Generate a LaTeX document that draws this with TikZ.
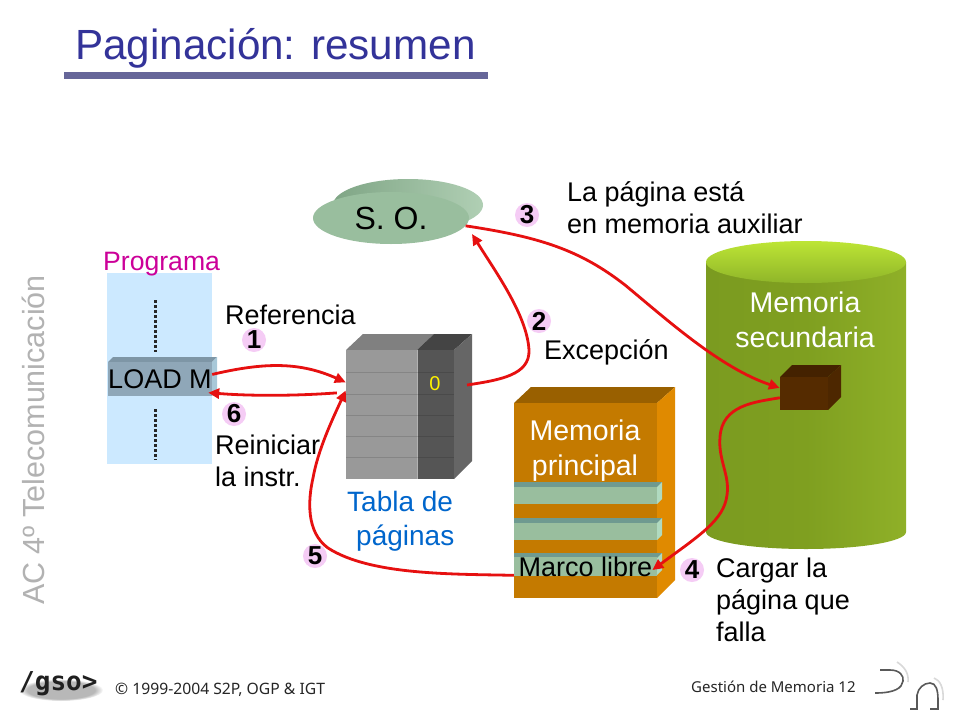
\documentclass[tikz,border=0pt]{standalone}
\usepackage{fontspec}
\setmainfont{Liberation Sans}
\newfontfamily\piefont{Noto Sans}
\newfontfamily\gsofont{DejaVu Sans Mono}
\usetikzlibrary{arrows.meta,shapes.geometric,fadings}
\definecolor{azultitulo}{HTML}{333399}
\definecolor{regla}{HTML}{666699}
\definecolor{flechared}{HTML}{E61010}
\definecolor{marcoverde}{HTML}{99BE9E}
\definecolor{marcotope}{HTML}{6F9A90}
\definecolor{marcolado}{HTML}{B0DAC0}
\definecolor{rosa}{HTML}{F5CCF5}
\definecolor{sofondoa}{HTML}{7FA585}
\definecolor{sofondob}{HTML}{B0CFB4}
\definecolor{progtexto}{HTML}{CC0099}
\definecolor{progfondo}{HTML}{CCE9FF}
\definecolor{loadtope}{HTML}{7E96A6}
\definecolor{loadlado}{HTML}{A8C8D8}
\definecolor{loadfrente}{HTML}{8FA7B8}
\definecolor{tablatope}{HTML}{808080}
\definecolor{tablatopeosc}{HTML}{444444}
\definecolor{tablalado}{HTML}{666666}
\definecolor{tablaclaro}{HTML}{999999}
\definecolor{tablaoscuro}{HTML}{555555}
\definecolor{tablatexto}{HTML}{0066CC}
\definecolor{mptope}{HTML}{996000}
\definecolor{mplado}{HTML}{E08A00}
\definecolor{mpfrente}{HTML}{C47A00}
\definecolor{cilizq}{HTML}{7B9B20}
\definecolor{cilmed}{HTML}{7F9F20}
\definecolor{cilder}{HTML}{8FB028}
\definecolor{ciltopea}{HTML}{BDE535}
\definecolor{ciltopeb}{HTML}{8FB529}
\definecolor{cubotope}{HTML}{442200}
\definecolor{cubolado}{HTML}{4D2700}
\definecolor{cubofrente}{HTML}{552B00}
\tikzset{
  texto/.style={inner sep=0pt,font=\fontsize{27}{32}\selectfont},
  blanco/.style={inner sep=0pt,text=white,align=center,font=\fontsize{28.5}{35}\selectfont},
  numero/.style={circle,fill=rosa,minimum size=24pt,inner sep=0pt,font=\bfseries\fontsize{26}{26}\selectfont},
  flecha/.style={draw=flechared,line width=2.8pt,-{Triangle[length=11pt,width=10pt]}},
  pie/.style={inner sep=0pt,text=black!85,font=\piefont\fontsize{15}{18}\selectfont},
  puntos/.style={line width=3pt,dash pattern=on 3pt off 2pt,black!85},
  marco/.style={fill=marcoverde,minimum width=143pt,minimum height=17pt,inner sep=0pt}
}
\begin{document}
\begin{tikzpicture}[x=1pt,y=-1pt]
  \useasboundingbox[fill=white] (0,0) rectangle (960,720);

  %% titulo
  \node[anchor=base west,inner sep=0pt,text=azultitulo,font=\fontsize{42.2}{50}\selectfont] (titulo) at (75,59) {Paginaci\'on: resumen};
  \fill[regla] (64,72) rectangle (488,79);

  %% S. O.
  \shade[left color=sofondoa,right color=sofondob] (408,205) ellipse (75 and 26);
  \node[ellipse,fill=marcoverde,minimum width=156pt,minimum height=52pt,inner sep=0pt,font=\fontsize{32}{32}\selectfont] (so) at (391,218) {\raisebox{-2pt}{S. O.}};
  \coordinate (soB) at (472,234);

  %% programa
  \fill[progfondo] (107,273) rectangle (212,464);
  \node[anchor=west,inner sep=0pt,text=progtexto,font=\fontsize{26.6}{32}\selectfont] (programa) at (103,264) {Programa};
  \draw[puntos] (155,300) -- (155,352);
  \draw[puntos] (155,409) -- (155,460);
  \fill[loadtope] (108,362) -- (113,357) -- (217,357) -- (212,362) -- cycle;
  \fill[loadlado] (212,362) -- (217,357) -- (217,391) -- (212,396) -- cycle;
  \node[fill=loadfrente,minimum width=104pt,minimum height=34pt,texto] (load) at (160,379) {LOAD M};

  %% tabla de paginas
  \fill[tablatope] (346,350) -- (363,334) -- (434,334) -- (417,350) -- cycle;
  \fill[tablatopeosc] (417,350) -- (434,334) -- (472,334) -- (454,350) -- cycle;
  \fill[tablalado] (454,350) -- (472,334) -- (472,461) -- (454,479) -- cycle;
  \node[fill=tablaclaro,minimum width=71pt,minimum height=129pt,inner sep=0pt] (tabla) at (381.5,414.5) {};
  \fill[tablaoscuro] (417,350) rectangle (454,479);
  \draw[white!70!black,line width=.8pt] (417,350) -- (417,479);
  \draw[black,opacity=.13] (346,372) -- (454,372);
  \draw[black,opacity=.13] (346,394) -- (454,394);
  \draw[black,opacity=.13] (346,415) -- (454,415);
  \draw[black,opacity=.13] (346,436) -- (454,436);
  \draw[black,opacity=.13] (346,457) -- (454,457);
  \node[inner sep=0pt,text=yellow,font=\fontsize{20}{20}\selectfont] (cero) at (435,384) {0};
  \coordinate (ceroE) at (467,385);
  \node[anchor=west,texto,text=tablatexto,align=left,font=\fontsize{28}{34}\selectfont] (tablatxt) at (347,521) {Tabla de\\\hspace*{9pt}p\'aginas};

  %% memoria principal
  \fill[mptope] (514,403) -- (531,387) -- (675,387) -- (657,403) -- cycle;
  \fill[mplado] (657,403) -- (675,387) -- (675,580) -- (657,598) -- cycle;
  \node[fill=mpfrente,minimum width=143pt,minimum height=195pt,inner sep=0pt] (principal) at (585.5,500.5) {};
  \node[blanco] (principaltxt) at (585,451) {Memoria\\principal};
  \fill[marcotope] (514,482) rectangle (662,487);
  \fill[marcolado] (657,487) -- (662,482) -- (662,499) -- (657,504) -- cycle;
  \node[marco] (marcoA) at (585.5,495.5) {};
  \fill[marcotope] (514,518) rectangle (662,523);
  \fill[marcolado] (657,523) -- (662,518) -- (662,535) -- (657,540) -- cycle;
  \node[marco] (marcoB) at (585.5,531.5) {};
  \fill[marcotope] (514,553) rectangle (662,558);
  \fill[marcolado] (657,558) -- (662,553) -- (662,570) -- (657,575) -- cycle;
  \node[marco,texto] (libre) at (585.5,566.5) {Marco libre};

  %% memoria secundaria
  \shade[left color=cilizq,right color=cilder,middle color=cilmed] (706,262) -- (706,532) arc[start angle=180,end angle=0,x radius=100,y radius=17] -- (906,262) -- cycle;
  \shade[top color=ciltopea,bottom color=ciltopeb] (806,262) ellipse (100 and 21);
  \node[blanco] (secundaria) at (805,320) {Memoria\\secundaria};
  \fill[cubotope] (780,377) -- (792,365) -- (841,365) -- (828,377) -- cycle;
  \fill[cubolado] (828,377) -- (841,365) -- (841,397) -- (828,410) -- cycle;
  \node[fill=cubofrente,minimum width=48pt,minimum height=33pt,inner sep=0pt] (cubo) at (804,393.5) {};

  %% textos
  \node[anchor=west,texto] (referencia) at (225,315) {Referencia};
  \node[anchor=west,texto,align=left] (reiniciar) at (215,460.5) {Reiniciar\\la instr.};
  \node[anchor=west,texto] (excepcion) at (544,352) {Excepci\'on};
  \node[anchor=west,texto,align=left] (auxiliar) at (567,207.5) {La p\'agina est\'a\\en memoria auxiliar};
  \node[anchor=west,texto,align=left] (cargar) at (716,600) {Cargar la\\p\'agina que\\falla};

  %% numeros
  \node[numero] (uno) at (254,340) {1};
  \node[numero] (dos) at (539,321) {2};
  \node[numero] (tres) at (527,215) {3};
  \node[numero] (cuatro) at (692,570) {4};
  \node[numero] (cinco) at (315,556) {5};
  \node[numero] (seis) at (234,414) {6};

  %% flechas
  \draw[flecha] (load.5) .. controls (265,362) and (300,362) .. (tabla.138);
  \draw[flecha,shorten <=9pt,shorten >=-4pt] (tabla.148) .. controls (295,396) and (250,396) .. (load.-15);
  \draw[flecha] (libre.187) .. controls (450,574) and (370,575) .. (328,548) .. controls (306,532) and (308,500) .. (313,478) .. controls (318,450) and (332,420) .. (tabla.146);
  \draw[flecha] (ceroE) .. controls (500,380) and (530,375) .. (529,350) .. controls (527,315) and (495,271) .. (soB);
  \draw[flecha] (so.-6) .. controls (540,237) and (580,250) .. (625,285) .. controls (665,318) and (720,368) .. (cubo.167);
  \draw[flecha,shorten >=-6pt] (cubo.190) .. controls (755,402) and (722,405) .. (720,437) .. controls (718,460) and (730,475) .. (727,495) .. controls (724,520) and (700,535) .. (libre.east);

  %% pie
  \node[rotate=90,text=black!30,inner sep=0pt,font=\fontsize{30.5}{31}\selectfont] (asignatura) at (33,440) {AC 4\textordmasculine{} Telecomunicaci\'on};
  \fill[black!28,path fading=circle with fuzzy edge 20 percent] (61,690) ellipse (42 and 11);
  \node[anchor=west,inner sep=0pt,text=black!88,font=\gsofont\bfseries\fontsize{26}{26}\selectfont] (gso) at (19,684) {/gso>};
  \node[anchor=west,pie,font=\piefont\fontsize{15.7}{18}\selectfont] (copyright) at (115,690) {\textcopyright{} 1999-2004 S2P, OGP \& IGT};
  \node[anchor=west,pie] (gestion) at (691,687) {Gesti\'on de Memoria 12};

  %% logo
  \draw[black!65,line width=1.6pt] (880,670) -- (890,670) .. controls (900,670) and (904,676) .. (903,681) .. controls (902,688) and (895,693) .. (875,693);
  \draw[black!15,line width=1.6pt] (897,662) .. controls (905,667) and (909,674) .. (908,682);
  \draw[black!65,line width=1.6pt] (910,709) -- (917,709) -- (917,695) .. controls (918,688) and (924,683) .. (930,683) .. controls (936,683) and (938,690) .. (938,700) -- (938,709) -- (930,709);
  \draw[black!15,line width=1.6pt] (934,678) .. controls (940,680) and (944,688) .. (943,700);
\end{tikzpicture}
\end{document}
